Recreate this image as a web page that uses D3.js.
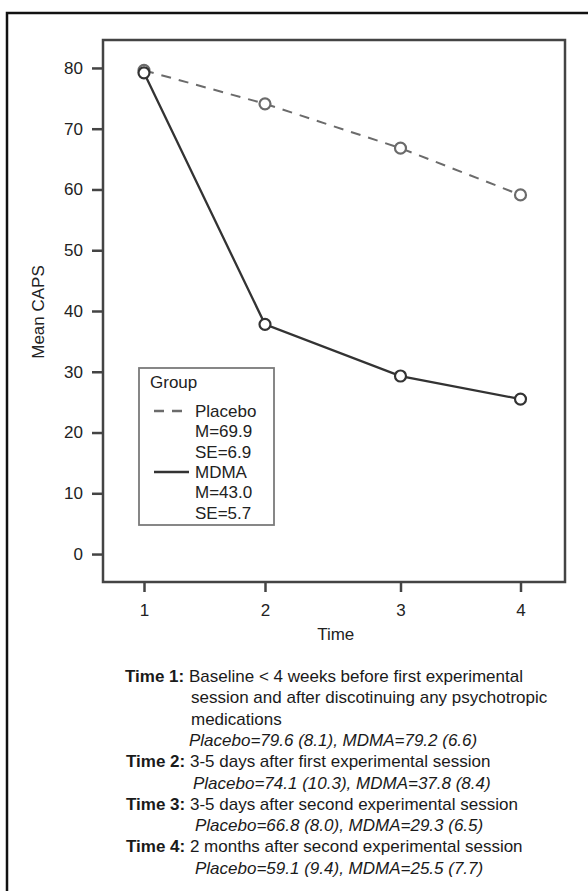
<!DOCTYPE html>
<html>
<head>
<meta charset="utf-8">
<script src="https://cdn.jsdelivr.net/npm/d3@7"></script>
<style>
  body { margin: 0; background: #fff; }
  svg text { font-family: "Liberation Sans", Arial, Helvetica, sans-serif; }
</style>
</head>
<body>
<svg width="588" height="891"></svg>
<script>
// data
var times = [1, 2, 3, 4];
var placebo = [79.6, 74.1, 66.8, 59.1];
var placeboSD = ["8.1", "10.3", "8.0", "9.4"];
var mdma = [79.2, 37.8, 29.3, 25.5];
var mdmaSD = ["6.6", "8.4", "6.5", "7.7"];
var yTicks = [0, 10, 20, 30, 40, 50, 60, 70, 80];
var groups = ["Placebo", "MDMA"];
var groupM = ["69.9", "43.0"];
var groupSE = ["6.9", "5.7"];
var timeNotes = [
  ["Baseline < 4 weeks before first experimental", "session and after discotinuing any psychotropic", "medications"],
  ["3-5 days after first experimental session"],
  ["3-5 days after second experimental session"],
  ["2 months after second experimental session"]
];

var svg = d3.select("svg"),
    margin = {left: 103, top: 40},
    width = 462,
    height = 542;

// outer border, cropped at right and bottom
svg.append("rect")
  .attr("x", 7).attr("y", 13)
  .attr("width", 600).attr("height", 900)
  .attr("fill", "none").attr("stroke", "#111").attr("stroke-width", 2.5);

var g = svg.append("g")
  .attr("transform", "translate(" + margin.left + "," + margin.top + ")");

// the original axis puts the time points at uneven spacing
var x = d3.scaleLinear()
  .domain(times)
  .range([41, 162, 297.5, 417.5]);

var y = d3.scaleLinear()
  .domain([-4.6, 84.6])
  .range([height, 0]);

var yAxis = g.append("g")
  .call(d3.axisLeft(y).tickValues(yTicks).tickSize(11).tickPadding(9));
yAxis.select(".domain").remove();

var xAxis = g.append("g")
  .attr("transform", "translate(0," + height + ")")
  .call(d3.axisBottom(x).tickValues(times).tickFormat(d3.format("d")).tickSize(10).tickPadding(12));
xAxis.select(".domain").remove();

[yAxis, xAxis].forEach(function(a) {
  a.selectAll("line").attr("stroke", "#444").attr("stroke-width", 2.5);
  a.selectAll("text").attr("font-size", 17).attr("fill", "#222")
    .attr("font-family", "'Liberation Sans', Arial, sans-serif");
});

g.append("rect")
  .attr("width", width).attr("height", height)
  .attr("fill", "none").attr("stroke", "#444").attr("stroke-width", 2.5);

g.append("text")
  .attr("x", (162 + 297.5) / 2 + 3)
  .attr("y", height + 58)
  .attr("text-anchor", "middle")
  .attr("font-size", 17).attr("fill", "#222")
  .text("Time");

g.append("text")
  .attr("transform", "translate(" + (-65) + "," + (height / 2 + 1) + ") rotate(-90)")
  .attr("dy", "0.35em")
  .attr("text-anchor", "middle")
  .attr("font-size", 17).attr("fill", "#222")
  .text("Mean CAPS");

var line = d3.line()
  .x(function(d, i) { return x(times[i]); })
  .y(function(d) { return y(d); });

var series = [
  {values: placebo, color: "#6b6b6b", dash: "10,8", width: 2},
  {values: mdma, color: "#333", dash: null, width: 2.3}
];

series.forEach(function(s) {
  g.append("path")
    .datum(s.values)
    .attr("fill", "none")
    .attr("stroke", s.color)
    .attr("stroke-width", s.width)
    .attr("stroke-dasharray", s.dash)
    .attr("d", line);
  g.selectAll(null)
    .data(s.values)
    .enter().append("circle")
    .attr("cx", function(d, i) { return x(times[i]); })
    .attr("cy", function(d) { return y(d); })
    .attr("r", 5.5)
    .attr("fill", "#fff")
    .attr("stroke", s.color)
    .attr("stroke-width", 2.2);
});

// legend
var lg = svg.append("g").attr("transform", "translate(139,368)");
lg.append("rect")
  .attr("width", 135).attr("height", 157)
  .attr("fill", "#fff").attr("stroke", "#7a7a7a").attr("stroke-width", 1.8);
lg.append("text").attr("x", 11).attr("y", 20)
  .attr("font-size", 17).attr("fill", "#222").text("Group");

groups.forEach(function(name, i) {
  var top = 43 + i * 61;
  var s = series[i];
  lg.append("line")
    .attr("x1", 15).attr("x2", i === 0 ? 44 : 50)
    .attr("y1", top).attr("y2", top)
    .attr("stroke", s.color).attr("stroke-width", 2.3)
    .attr("stroke-dasharray", s.dash);
  var t = lg.append("text").attr("font-size", 17).attr("fill", "#222");
  [name, "M=" + groupM[i], "SE=" + groupSE[i]].forEach(function(str, j) {
    t.append("tspan").attr("x", 56).attr("y", top + 6 + j * 20.3).text(str);
  });
});

// notes under the chart
var notes = svg.append("g").attr("font-size", 17).attr("fill", "#1a1a1a");
var baseY = 682, lh = 21.3, row = 0;
timeNotes.forEach(function(lines, i) {
  lines.forEach(function(str, j) {
    var t = notes.append("text").attr("y", baseY + row * lh);
    if (j === 0) {
      t.attr("x", i === 0 ? 125 : 126);
      t.append("tspan").attr("font-weight", "bold").text("Time " + times[i] + ":");
      t.append("tspan").text(" " + str);
    } else {
      t.attr("x", 191).text(str);
    }
    row++;
  });
  notes.append("text")
    .attr("x", i === 0 ? 189 : (i === 1 ? 193 : 195))
    .attr("y", baseY + row * lh)
    .attr("font-style", "italic")
    .text("Placebo=" + d3.format(".1f")(placebo[i]) + " (" + placeboSD[i] + "), MDMA=" +
          d3.format(".1f")(mdma[i]) + " (" + mdmaSD[i] + ")");
  row++;
});
</script>
</body>
</html>
